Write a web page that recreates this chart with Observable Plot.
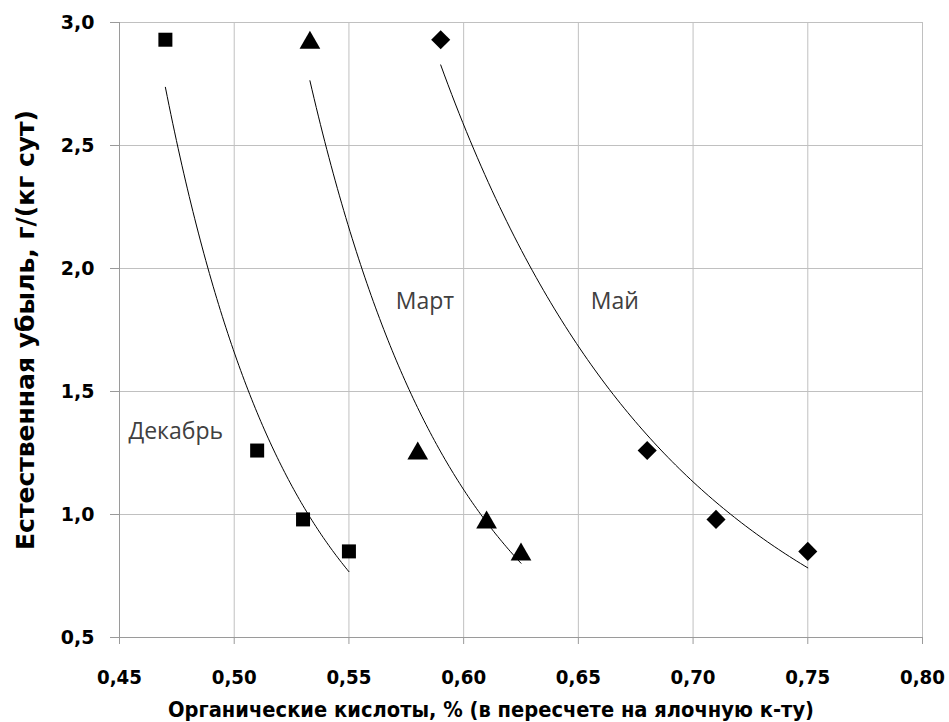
<!DOCTYPE html>
<html>
<head>
<meta charset="utf-8">
<script src="https://cdn.jsdelivr.net/npm/d3@7"></script>
<script src="https://cdn.jsdelivr.net/npm/@observablehq/plot@0.6"></script>
<style>
  html, body { margin: 0; padding: 0; background: #fff; }
  #chart svg { display: block; }
</style>
</head>
<body>
<div id="chart"></div>
<script>
// ---- Data ----
const seriesNames = ["Декабрь", "Март", "Май"];
const decX = [0.47, 0.51, 0.53, 0.55];
const decY = [2.93, 1.26, 0.98, 0.85];
const marX = [0.533, 0.58, 0.61, 0.625];
const marY = [2.93, 1.26, 0.98, 0.85];
const mayX = [0.59, 0.68, 0.71, 0.75];
const mayY = [2.93, 1.26, 0.98, 0.85];

// label anchors for the series names (data units)
const labelX = [0.4539, 0.5704, 0.6554];
const labelY = [1.336, 1.867, 1.867];

const xTicks = [0.45, 0.50, 0.55, 0.60, 0.65, 0.70, 0.75, 0.80];
const yTicks = [0.5, 1.0, 1.5, 2.0, 2.5, 3.0];
const xTitle = "Органические кислоты, % (в пересчете на ялочную к-ту)";
const yTitle = "Естественная убыль, г/(кг сут)";

// ---- Build tables ----
const seriesX = [decX, marX, mayX];
const seriesY = [decY, marY, mayY];
const pts = seriesNames.map((name, i) => seriesX[i].map((x, j) => ({series: name, x, y: seriesY[i][j]})));

// Power trendline (least squares in log-log space), drawn over each series' x range
const trend = [];
seriesNames.forEach((name, i) => {
  const xs = seriesX[i], ys = seriesY[i];
  const lx = xs.map(Math.log), ly = ys.map(Math.log);
  const mx = d3.mean(lx), my = d3.mean(ly);
  const b = d3.sum(lx, (v, k) => (v - mx) * (ly[k] - my)) / d3.sum(lx, v => (v - mx) ** 2);
  const lnA = my - b * mx;
  const [x0, x1] = d3.extent(xs);
  d3.range(0, 101).forEach(k => {
    const x = x0 + (x1 - x0) * k / 100;
    trend.push({series: name, x, y: Math.exp(lnA) * Math.pow(x, b)});
  });
});

const labels = seriesNames.map((name, i) => ({name, x: labelX[i], y: labelY[i]}));

const fmtX = d => d.toFixed(2).replace(".", ",");
const fmtY = d => d.toFixed(1).replace(".", ",");
const boldFont = "'DejaVu Sans', sans-serif";

const chart = Plot.plot({
  width: 949,
  height: 722,
  marginTop: 22,
  marginLeft: 119,
  marginRight: 27,
  marginBottom: 85,
  x: {domain: [0.45, 0.80]},
  y: {domain: [0.5, 3.0]},
  style: {background: "#fff", color: "#000"},
  marks: [
    Plot.gridX(xTicks, {stroke: "#c0c0c0", strokeOpacity: 1, strokeWidth: 1}),
    Plot.gridY(yTicks, {stroke: "#c0c0c0", strokeOpacity: 1, strokeWidth: 1}),
    Plot.ruleX([0.45], {stroke: "#9a9a9a", strokeWidth: 1}),
    Plot.ruleY([0.5], {stroke: "#9a9a9a", strokeWidth: 1}),
    Plot.axisX(xTicks, {
      tickFormat: fmtX, tickSize: 7, tickPadding: 25, stroke: "#9a9a9a",
      fontSize: 20, fontWeight: "bold", fontFamily: boldFont, fill: "#000", label: null
    }),
    Plot.axisY(yTicks, {
      tickFormat: fmtY, tickSize: 9, tickPadding: 16, stroke: "#9a9a9a",
      fontSize: 19, fontWeight: "bold", fontFamily: boldFont, fill: "#000", label: null
    }),
    Plot.line(trend, {x: "x", y: "y", z: "series", stroke: "#000", strokeWidth: 1}),
    Plot.dot(pts[0], {x: "x", y: "y", symbol: "square", r: 7.9, fill: "#000", stroke: "none"}),
    Plot.dot(pts[1], {x: "x", y: "y", symbol: "triangle", r: 7.7, dy: 3, fill: "#000", stroke: "none"}),
    Plot.dot(pts[2], {x: "x", y: "y", symbol: "diamond2", r: 8.6, fill: "#000", stroke: "none"}),
    Plot.text(labels, {x: "x", y: "y", text: "name", textAnchor: "start", fontSize: 23,
      fontFamily: "'Open Sans', sans-serif", fill: "#404040"}),
    Plot.text([xTitle], {text: d => d, frameAnchor: "bottom", textAnchor: "middle", dx: -30, dy: 79, fontSize: 22,
      fontWeight: "bold", fontFamily: boldFont, fill: "#000"}),
    Plot.text([yTitle], {text: d => d, frameAnchor: "left", textAnchor: "middle", dx: -93, dy: 0, rotate: -90, fontSize: 24,
      fontWeight: "bold", fontFamily: boldFont, fill: "#000"})
  ]
});

// Condense the bold texts to the narrow face used in the reference
chart.querySelectorAll('g[aria-label="x-axis tick label"] text').forEach(t => {
  t.setAttribute("textLength", 45);
  t.setAttribute("lengthAdjust", "spacingAndGlyphs");
});
chart.querySelectorAll("text").forEach(t => {
  if (t.textContent === xTitle) {
    t.setAttribute("textLength", 646);
    t.setAttribute("lengthAdjust", "spacingAndGlyphs");
  } else if (t.textContent === yTitle) {
    t.setAttribute("textLength", 440);
    t.setAttribute("lengthAdjust", "spacingAndGlyphs");
  }
});
document.getElementById("chart").append(chart);
</script>
</body>
</html>
